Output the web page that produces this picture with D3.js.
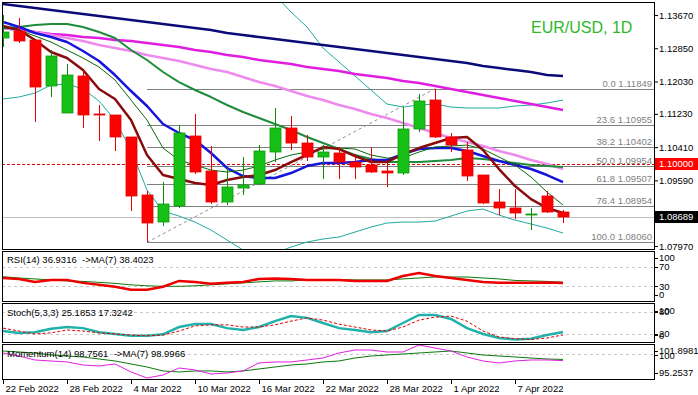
<!DOCTYPE html>
<html>
<head>
<meta charset="utf-8">
<script src="https://cdn.jsdelivr.net/npm/d3@7"></script>
<style>
body { margin: 0; background: #fff; }
svg text { font-family: "Liberation Sans", Arial, sans-serif; font-size: 9.5px; white-space: pre; }
</style>
</head>
<body>
<script>
// daily bars, EUR/USD
var dates = ['22 Feb 2022','23 Feb 2022','24 Feb 2022','25 Feb 2022','28 Feb 2022','1 Mar 2022','2 Mar 2022','3 Mar 2022','4 Mar 2022','7 Mar 2022','8 Mar 2022','9 Mar 2022','10 Mar 2022','11 Mar 2022','14 Mar 2022','15 Mar 2022','16 Mar 2022','17 Mar 2022','18 Mar 2022','21 Mar 2022','22 Mar 2022','23 Mar 2022','24 Mar 2022','25 Mar 2022','28 Mar 2022','29 Mar 2022','30 Mar 2022','31 Mar 2022','1 Apr 2022','4 Apr 2022','5 Apr 2022','6 Apr 2022','7 Apr 2022','8 Apr 2022','11 Apr 2022','12 Apr 2022'];
var dateTicks = ['22 Feb 2022','28 Feb 2022','4 Mar 2022','10 Mar 2022','16 Mar 2022','22 Mar 2022','28 Mar 2022','1 Apr 2022','7 Apr 2022'];

var open  = [1.13102,1.13275,1.13053,1.11918,1.11251,1.12165,1.11227,1.11202,1.10659,1.09228,1.08562,1.08956,1.10684,1.09820,1.09055,1.09400,1.09499,1.10289,1.10881,1.10511,1.10165,1.10264,1.10042,1.09968,1.09820,1.09770,1.10856,1.11572,1.10659,1.10338,1.09721,1.09055,1.08907,1.08755,1.09203,1.08808];
var high  = [1.13670,1.13596,1.13053,1.12806,1.12461,1.12313,1.11449,1.11202,1.10659,1.09326,1.09548,1.10955,1.11227,1.10437,1.09894,1.10165,1.10462,1.11375,1.11177,1.10708,1.10462,1.10412,1.10239,1.10412,1.10017,1.11399,1.11720,1.11849,1.10758,1.10536,1.09721,1.09376,1.09376,1.08907,1.09326,1.08857];
var low   = [1.12880,1.12979,1.11029,1.11646,1.11251,1.10881,1.10560,1.10313,1.08833,1.08060,1.08463,1.08907,1.09746,1.09005,1.08981,1.09228,1.09474,1.10042,1.10338,1.10067,1.09622,1.09622,1.09622,1.09770,1.09425,1.09721,1.10782,1.10634,1.10289,1.09573,1.09005,1.08734,1.08635,1.08364,1.08784,1.08537];
var close = [1.13250,1.13028,1.11893,1.12658,1.12189,1.11202,1.11190,1.10659,1.09203,1.08537,1.09005,1.10758,1.09795,1.09055,1.09425,1.09474,1.10313,1.10881,1.10511,1.10165,1.10289,1.10042,1.09918,1.09795,1.09770,1.10856,1.11548,1.10659,1.10462,1.09697,1.09030,1.08907,1.08784,1.08770,1.08808,1.08689];

// moving averages on the price chart
var ma200 = [1.13941,1.13892,1.13843,1.13793,1.13744,1.13695,1.13645,1.13596,1.13546,1.13497,1.13448,1.13398,1.13349,1.13300,1.13226,1.13176,1.13127,1.13078,1.13028,1.12979,1.12929,1.12880,1.12831,1.12781,1.12732,1.12683,1.12633,1.12584,1.12535,1.12485,1.12411,1.12362,1.12312,1.12263,1.12189,1.12164];
var ma100 = [1.13349,1.13300,1.13250,1.13201,1.13176,1.13127,1.13102,1.13053,1.13028,1.12979,1.12929,1.12880,1.12806,1.12757,1.12683,1.12633,1.12559,1.12510,1.12461,1.12386,1.12337,1.12288,1.12214,1.12164,1.12115,1.12041,1.11992,1.11918,1.11844,1.11769,1.11695,1.11621,1.11547,1.11473,1.11399,1.11325];
var ma50  = [1.13349,1.13300,1.13250,1.13176,1.13102,1.13028,1.12929,1.12855,1.12781,1.12683,1.12609,1.12535,1.12436,1.12337,1.12263,1.12140,1.12016,1.11918,1.11794,1.11671,1.11572,1.11449,1.11350,1.11227,1.11128,1.11004,1.10881,1.10758,1.10634,1.10536,1.10437,1.10313,1.10215,1.10091,1.09992,1.09869];
var ma20  = [1.13349,1.13374,1.13423,1.13448,1.13448,1.13374,1.13250,1.13102,1.12806,1.12559,1.12263,1.12016,1.11819,1.11646,1.11449,1.11276,1.11128,1.10980,1.10832,1.10659,1.10511,1.10363,1.10215,1.10116,1.10042,1.10042,1.10042,1.10066,1.10091,1.10141,1.10116,1.10066,1.10017,1.09968,1.09943,1.09918];
var ma10  = [1.13497,1.13374,1.13226,1.13127,1.13003,1.12781,1.12535,1.12189,1.11794,1.11424,1.10980,1.10758,1.10585,1.10264,1.09894,1.09696,1.09647,1.09647,1.09770,1.09943,1.10017,1.10017,1.10042,1.10091,1.10091,1.10239,1.10363,1.10387,1.10387,1.10313,1.10190,1.10066,1.09968,1.09869,1.09721,1.09548];
var ma5   = [1.13398,1.13300,1.13053,1.12757,1.12609,1.12312,1.11844,1.11597,1.11078,1.10215,1.09721,1.09622,1.09524,1.09474,1.09598,1.09672,1.09721,1.09844,1.10042,1.10215,1.10412,1.10363,1.10190,1.10042,1.10042,1.10239,1.10387,1.10511,1.10634,1.10659,1.10338,1.09869,1.09450,1.09127,1.08907,1.08783];
var maThin = [1.13349,1.13300,1.13152,1.13003,1.12806,1.12609,1.12386,1.12066,1.11572,1.11078,1.10387,1.10091,1.09968,1.09844,1.09795,1.09844,1.09943,1.10091,1.10215,1.10289,1.10363,1.10387,1.10363,1.10215,1.10141,1.10141,1.10289,1.10412,1.10437,1.10461,1.10363,1.10165,1.09968,1.09672,1.09301,1.08981];
var bbUpper = [1.15101,1.15101,1.15101,1.14953,1.14928,1.14904,1.14953,1.15126,1.15274,1.15521,1.15521,1.15323,1.15077,1.14928,1.14780,1.14682,1.14509,1.14163,1.13744,1.13374,1.12855,1.12510,1.12164,1.11819,1.11473,1.11399,1.11449,1.11473,1.11399,1.11375,1.11375,1.11375,1.11424,1.11449,1.11498,1.11572];
var bbLower = [1.11597,1.11646,1.11745,1.11942,1.11967,1.11844,1.11547,1.11078,1.10338,1.09351,1.08833,1.08709,1.08561,1.08364,1.08118,1.07870,1.07746,1.07796,1.07944,1.08068,1.08142,1.08191,1.08314,1.08438,1.08537,1.08561,1.08561,1.08586,1.08709,1.08833,1.08882,1.08734,1.08610,1.08512,1.08413,1.08290];

// price axis, fibo, levels
var priceTicks = [1.13670,1.12850,1.12030,1.11230,1.10410,1.09590,1.08770,1.07970];
var fibLevels = [0.0, 23.6, 38.2, 50.0, 61.8, 76.4, 100.0];
var fibPrices = [1.11849,1.10955,1.10402,1.09954,1.09507,1.08954,1.08060];
var fibFrom = '7 Mar 2022', fibTo = '31 Mar 2022';
var alertLevel = 1.10000;
var lastPrice = 1.08689;

// indicators
var rsi   = [47,45,39,43,43,37,33,29,23,23,29,41,39,35,37,39,45,46,45,43,43,43,41,41,41,51,57,51,47,43,39,37,37,37,38,36.9316];
var rsiMA = [49.5,47,45,43,41,40,38,36,33,31,30,30,31,33,35,37,39,41,41,43,43.5,43.5,43,43,43,45,47,49,49,49,47,45,42,41,40,38.4023];
var stochK = [28,23,25,34,39,36,25,20,15,15,19,39,47,47,36,31,39,55,69,64,50,36,31,25,28,50,72,72,61,36,20,9,5,7,17,25.1853];
var stochD = [36,28,20,23,31,28,23,20,17,15,17,28,42,45,45,39,39,45,55,64,58,47,39,31,28,39,58,66,69,55,28,12,7,5,9,17.3242];
var mom   = [100.29,99.68,98.88,98.68,98.48,97.87,97.67,98.08,96.47,95.2537,95.86,97.27,96.87,96.06,96.26,96.67,98.28,98.48,98.48,98.88,99.28,100.29,100.89,100.89,100.49,100.49,101.8981,101.29,100.69,99.48,98.68,98.28,98.68,98.88,98.88,98.7561];
var momMA = [100.69,100.49,100.29,99.89,99.68,99.48,99.08,98.68,98.08,97.47,96.67,96.47,96.67,96.67,96.47,96.67,97.07,97.47,97.87,98.08,98.48,98.68,99.28,99.68,99.89,100.09,100.29,100.49,100.69,100.29,99.89,99.68,99.48,99.28,99.08,98.9966];

var width = 698, height = 395;
var svg = d3.select('body').append('svg')
	.attr('width', width)
	.attr('height', height);

// panels: [top, bottom] of each frame
var panels = { main: [2, 249], rsi: [251, 301], stoch: [303, 342], mom: [344, 379] };
var left = 2, right = 654;

var x = d3.scalePoint().domain(dates).range([3, 563]);
var y = d3.scaleLinear().domain([1.07970, 1.13670]).range([246, 15]);
var yRsi = d3.scaleLinear().domain([0, 100]).range([301, 252]);
var yStoch = d3.scaleLinear().domain([0, 100]).range([341.3, 304.7]);
var yMom = d3.scaleLinear().domain([95.2537, 101.8981]).range([378, 345]);

var defs = svg.append('defs');
Object.keys(panels).forEach(function(k) {
	defs.append('clipPath').attr('id', 'clip-' + k)
		.append('rect')
		.attr('x', left + 1).attr('y', panels[k][0] + 1)
		.attr('width', right - left - 1).attr('height', panels[k][1] - panels[k][0] - 1);
});

function lineOf(yScale) {
	return d3.line()
		.x(function(d, i) { return x(dates[i]); })
		.y(function(d) { return yScale(d); });
}

function hline(g, yy, color, dash) {
	g.append('line')
		.attr('x1', left).attr('x2', right)
		.attr('y1', Math.round(yy) + 0.5).attr('y2', Math.round(yy) + 0.5)
		.attr('stroke', color)
		.attr('stroke-dasharray', dash || null);
}

// ---------- main chart ----------
var main = svg.append('g').attr('clip-path', 'url(#clip-main)');

// last price line and 1.10000 level
hline(main, y(lastPrice), '#c0c0c0');
hline(main, y(alertLevel), '#e00000', '3,2');

// fibonacci retracement
main.selectAll('.fib').data(fibPrices).enter().append('line')
	.attr('x1', x(fibFrom)).attr('x2', right)
	.attr('y1', function(d) { return Math.round(y(d)) + 0.5; })
	.attr('y2', function(d) { return Math.round(y(d)) + 0.5; })
	.attr('stroke', '#808080');
main.append('line')
	.attr('x1', x(fibFrom)).attr('y1', y(fibPrices[6]))
	.attr('x2', x(fibTo)).attr('y2', y(fibPrices[0]))
	.attr('stroke', '#909090')
	.attr('stroke-dasharray', '3,3');
main.selectAll('.fibtxt').data(fibPrices).enter().append('text')
	.attr('x', 652)
	.attr('y', function(d) { return Math.round(y(d)) - 2; })
	.attr('text-anchor', 'end')
	.attr('fill', '#808080')
	.text(function(d, i) { return fibLevels[i].toFixed(1) + ' ' + d.toFixed(5); });

// indicator lines on price
var maLines = [
	{ v: bbUpper, c: '#20aaa2', w: 1 },
	{ v: bbLower, c: '#20aaa2', w: 1 },
	{ v: ma200, c: '#0a0a78', w: 2.5 },
	{ v: ma100, c: '#e01ee0', w: 2.5 },
	{ v: ma50, c: '#ee8aee', w: 2.5 },
	{ v: ma20, c: '#1f8c3c', w: 2 },
	{ v: ma10, c: '#1414dc', w: 2.5 },
	{ v: maThin, c: '#0a680a', w: 1 },
	{ v: ma5, c: '#8a0b0b', w: 2.5 }
];
main.selectAll('.ma').data(maLines).enter().append('path')
	.attr('fill', 'none')
	.attr('stroke', function(d) { return d.c; })
	.attr('stroke-width', function(d) { return d.w; })
	.attr('stroke-linejoin', 'round')
	.attr('d', function(d) { return lineOf(y)(d.v); });

// candles
var candle = main.selectAll('.candle').data(dates).enter().append('g');
function isUp(i) { return close[i] >= open[i]; }
candle.append('line')
	.attr('x1', function(d) { return x(d) + 0.5; })
	.attr('x2', function(d) { return x(d) + 0.5; })
	.attr('y1', function(d, i) { return y(high[i]); })
	.attr('y2', function(d, i) { return y(low[i]); })
	.attr('stroke', function(d, i) { return isUp(i) ? '#0c8a0c' : '#e80000'; });
candle.append('rect')
	.attr('x', function(d) { return x(d) - 5; })
	.attr('width', 11)
	.attr('y', function(d, i) { return Math.round(y(Math.max(open[i], close[i]))); })
	.attr('height', function(d, i) { return Math.max(1, Math.round(Math.abs(y(open[i]) - y(close[i])))); })
	.attr('fill', function(d, i) { return isUp(i) ? '#16c016' : '#ff0000'; })
	.attr('stroke', function(d, i) { return isUp(i) ? '#0e9a0e' : '#e60000'; })
	.attr('stroke-width', 0.8);

// title
svg.append('text')
	.attr('x', 531).attr('y', 33)
	.attr('fill', '#2eb82e')
	.style('font-size', '16px')
	.text('EUR/USD, 1D');

// price axis
var pAxis = svg.append('g')
	.attr('transform', 'translate(' + right + ',0)')
	.call(d3.axisRight(y).tickValues(priceTicks).tickSize(4).tickPadding(1).tickFormat(d3.format('.5f')));
pAxis.select('.domain').remove();
pAxis.selectAll('text').attr('font-family', null).attr('font-size', null).attr('fill', '#000');

// price markers on the axis
var markers = [
	{ p: alertLevel, bg: '#ff0000' },
	{ p: lastPrice, bg: '#000000' }
];
var mk = svg.selectAll('.mk').data(markers).enter().append('g');
mk.append('rect')
	.attr('x', right + 1).attr('width', 43)
	.attr('y', function(d) { return Math.round(y(d.p)) - 6; })
	.attr('height', 12)
	.attr('fill', function(d) { return d.bg; });
mk.append('text')
	.attr('x', right + 5)
	.attr('y', function(d) { return y(d.p); })
	.attr('dy', '0.35em')
	.attr('fill', '#fff')
	.text(function(d) { return d.p.toFixed(5); });

// ---------- RSI ----------
var pr = svg.append('g').attr('clip-path', 'url(#clip-rsi)');
[70, 30].forEach(function(v) { hline(pr, yRsi(v), '#c8c8c8', '3,3'); });
pr.append('path').attr('fill', 'none').attr('stroke', '#0b7a0b').attr('stroke-width', 1)
	.attr('d', lineOf(yRsi)(rsiMA));
pr.append('path').attr('fill', 'none').attr('stroke', '#ee0000').attr('stroke-width', 2.5)
	.attr('d', lineOf(yRsi)(rsi));
svg.append('text').attr('x', 7).attr('y', 263)
	.text('RSI(14) ' + rsi[rsi.length - 1].toFixed(4) + '  ->MA(7) ' + rsiMA[rsiMA.length - 1].toFixed(4));

// ---------- Stochastic ----------
var ps = svg.append('g').attr('clip-path', 'url(#clip-stoch)');
[80, 20].forEach(function(v) { hline(ps, yStoch(v), '#c8c8c8', '3,3'); });
ps.append('path').attr('fill', 'none').attr('stroke', '#20b2aa').attr('stroke-width', 2.5)
	.attr('d', lineOf(yStoch)(stochK));
ps.append('path').attr('fill', 'none').attr('stroke', '#e00000').attr('stroke-width', 1)
	.attr('stroke-dasharray', '3,2')
	.attr('d', lineOf(yStoch)(stochD));
svg.append('text').attr('x', 7).attr('y', 316)
	.text('Stoch(5,3,3) ' + stochK[stochK.length - 1].toFixed(4) + ' ' + stochD[stochD.length - 1].toFixed(4));

// ---------- Momentum ----------
var pm = svg.append('g').attr('clip-path', 'url(#clip-mom)');
hline(pm, yMom(100), '#c8c8c8', '3,3');
pm.append('path').attr('fill', 'none').attr('stroke', '#0b7a0b').attr('stroke-width', 1)
	.attr('d', lineOf(yMom)(momMA));
pm.append('path').attr('fill', 'none').attr('stroke', '#e020e0').attr('stroke-width', 1)
	.attr('d', lineOf(yMom)(mom));
svg.append('text').attr('x', 7).attr('y', 357)
	.text('Momentum(14) ' + mom[mom.length - 1].toFixed(4) + '  ->MA(7) ' + momMA[momMA.length - 1].toFixed(4));

// right labels of the sub windows (min/max labels sit inside the frame)
var subLabels = [
	{ t: '100', y: yRsi(100) + 6 }, { t: '70', y: yRsi(70) }, { t: '30', y: yRsi(30) }, { t: '0', y: yRsi(0) - 6 },
	{ t: '100', y: yStoch(100) + 6 }, { t: '80', y: yStoch(80) }, { t: '20', y: yStoch(20) }, { t: '0', y: yStoch(0) - 6 },
	{ t: d3.max(mom).toFixed(4), y: yMom(d3.max(mom)) + 6 }, { t: '100', y: yMom(100) + 1 }, { t: d3.min(mom).toFixed(4), y: yMom(d3.min(mom)) - 5 }
];
var sl = svg.selectAll('.sl').data(subLabels).enter().append('g');
sl.append('line')
	.attr('x1', right).attr('x2', right + 4)
	.attr('y1', function(d) { return Math.round(d.y) + 0.5; })
	.attr('y2', function(d) { return Math.round(d.y) + 0.5; })
	.attr('stroke', '#000');
sl.append('text')
	.attr('x', right + 5)
	.attr('y', function(d) { return d.y; })
	.attr('dy', '0.35em')
	.text(function(d) { return d.t; });

// panel frames
Object.keys(panels).forEach(function(k) {
	svg.append('rect')
		.attr('x', left + 0.5).attr('y', panels[k][0] + 0.5)
		.attr('width', right - left).attr('height', panels[k][1] - panels[k][0])
		.attr('fill', 'none').attr('stroke', '#000');
});

// date axis
var xAxis = svg.append('g')
	.attr('transform', 'translate(0,' + panels.mom[1] + ')')
	.call(d3.axisBottom(x).tickValues(dateTicks).tickSize(5));
xAxis.select('.domain').remove();
xAxis.selectAll('text')
	.attr('font-family', null).attr('font-size', null)
	.attr('fill', '#000')
	.attr('text-anchor', 'start')
	.attr('x', 2).attr('y', 6);
</script>
</body>
</html>
